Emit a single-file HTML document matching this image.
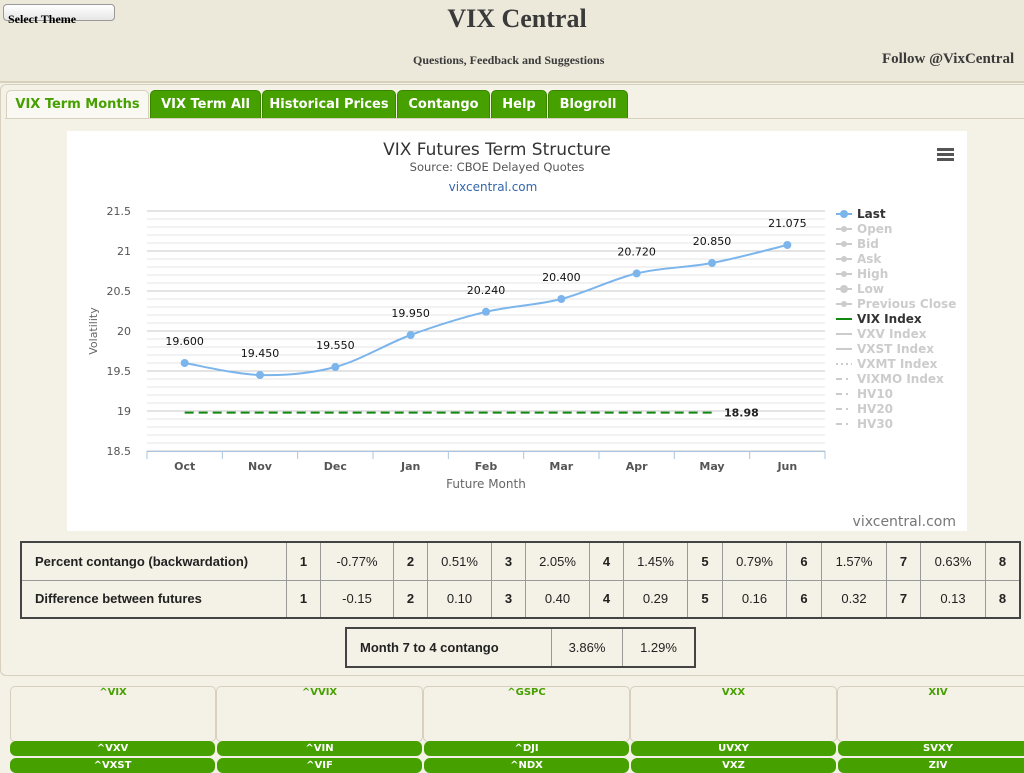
<!DOCTYPE html>
<html><head><meta charset="utf-8"><style>
body{margin:0;width:1024px;height:768px;overflow:hidden;background:#f4f1e6;font-family:"DejaVu Sans","Liberation Sans",sans-serif;position:relative}
.abs{position:absolute}
#hdr{left:0;top:0;width:1024px;height:81px;background:#ece8da;border-bottom:2px solid #d6d0bc}
.tab{position:absolute;top:90px;height:27px;background:#46a000;border:1px solid #3a8500;border-radius:5px 5px 0 0;color:#fff;font-weight:bold;font-size:13px;line-height:27px;text-align:center}
table{border-collapse:collapse;position:absolute;font-size:13px;color:#222;font-family:"Liberation Sans",sans-serif}
td{border:1px solid #999;padding:0;text-align:center}
.lbl{text-align:left;padding-left:13px;font-weight:bold}
.num{font-weight:bold}
.box{position:absolute;top:686px;height:54px;background:#f4f1e6;border:1px solid #d6d0bc;border-radius:5px;font-size:10px;color:#46a000;text-align:center;font-weight:bold}
.gbtn{position:absolute;height:15px;background:#46a000;border-radius:6px;color:#fff;font-size:10px;font-weight:bold;text-align:center;line-height:15px}
</style></head><body>
<div id="hdr" class="abs">
 <div class="abs" style="left:3px;top:4px;width:112px;height:17px;background:linear-gradient(#fff,#e6e6e6);border:1px solid #999;border-radius:4px;font:bold 12px 'Liberation Serif',serif;line-height:28px;padding-left:4px;box-sizing:border-box">Select Theme</div>
 <div class="abs" style="left:0;width:1034px;top:4px;text-align:center;font:bold 26px 'Liberation Serif',serif;color:#3a3a3a">VIX Central</div>
 <div class="abs" style="left:413px;top:53px;font:bold 12px 'Liberation Serif',serif;color:#3a3a3a">Questions, Feedback and Suggestions</div>
 <div class="abs" style="left:882px;top:51px;font:bold 15px 'Liberation Serif',serif;color:#3a3a3a;white-space:nowrap">Follow @VixCentral</div>
</div>
<div class="abs" style="left:0;top:84px;width:1030px;height:590px;border:1px solid #d6d0bc;border-radius:6px;background:#f4f1e6"></div>
<div class="tab" style="left:6px;width:141px;background:#f9f8f2;color:#46a000;border-color:#d6d0bc">VIX Term Months</div>
<div class="tab" style="left:150px;width:109px">VIX Term All</div>
<div class="tab" style="left:262px;width:132px">Historical Prices</div>
<div class="tab" style="left:397px;width:91px">Contango</div>
<div class="tab" style="left:491px;width:54px">Help</div>
<div class="tab" style="left:548px;width:78px">Blogroll</div>
<div class="abs" style="left:5px;top:118px;width:1019px;height:1px;background:#d6d0bc"></div>

<svg id="chart" class="abs" style="left:67px;top:131px" width="900" height="400"></svg>

<table style="left:20px;top:541px;border:2px solid #444">
<tr style="height:38px"><td class="lbl" style="width:251px">Percent contango (backwardation)</td><td class="num" style="width:33px">1</td><td style="width:72px">-0.77%</td><td class="num" style="width:33px">2</td><td style="width:63px">0.51%</td><td class="num" style="width:33px">3</td><td style="width:63px">2.05%</td><td class="num" style="width:33px">4</td><td style="width:63px">1.45%</td><td class="num" style="width:34px">5</td><td style="width:63px">0.79%</td><td class="num" style="width:34px">6</td><td style="width:64px">1.57%</td><td class="num" style="width:33px">7</td><td style="width:64px">0.63%</td><td class="num" style="width:33px">8</td></tr>
<tr style="height:38px"><td class="lbl">Difference between futures</td><td class="num">1</td><td>-0.15</td><td class="num">2</td><td>0.10</td><td class="num">3</td><td>0.40</td><td class="num">4</td><td>0.29</td><td class="num">5</td><td>0.16</td><td class="num">6</td><td>0.32</td><td class="num">7</td><td>0.13</td><td class="num">8</td></tr>
</table>
<table style="left:345px;top:627px;border:2px solid #444">
<tr style="height:39px"><td class="lbl" style="width:191px">Month 7 to 4 contango</td><td style="width:70px">3.86%</td><td style="width:71px">1.29%</td></tr>
</table>

<div class="box" style="left:10px;width:204px">^VIX</div>
<div class="box" style="left:216px;width:205px">^VVIX</div>
<div class="box" style="left:423px;width:205px">^GSPC</div>
<div class="box" style="left:630px;width:205px">VXX</div>
<div class="box" style="left:837px;width:200px">XIV</div>
<div class="gbtn" style="left:10px;top:741px;width:205px">^VXV</div>
<div class="gbtn" style="left:217px;top:741px;width:205px">^VIN</div>
<div class="gbtn" style="left:424px;top:741px;width:205px">^DJI</div>
<div class="gbtn" style="left:631px;top:741px;width:205px">UVXY</div>
<div class="gbtn" style="left:838px;top:741px;width:200px">SVXY</div>
<div class="gbtn" style="left:10px;top:758px;width:205px">^VXST</div>
<div class="gbtn" style="left:217px;top:758px;width:205px">^VIF</div>
<div class="gbtn" style="left:424px;top:758px;width:205px">^NDX</div>
<div class="gbtn" style="left:631px;top:758px;width:205px">VXZ</div>
<div class="gbtn" style="left:838px;top:758px;width:200px">ZIV</div>

<script>
const categories=["Oct","Nov","Dec","Jan","Feb","Mar","Apr","May","Jun"];
const lastValues=[19.6,19.45,19.55,19.95,20.24,20.4,20.72,20.85,21.075];
const lastLabels=["19.600","19.450","19.550","19.950","20.240","20.400","20.720","20.850","21.075"];
const vixIndex=18.98;
const vixLabel="18.98";
const yTicks=[18.5,19,19.5,20,20.5,21,21.5];
const yTickLabels=["18.5","19","19.5","20","20.5","21","21.5"];
const legendItems=["Last","Open","Bid","Ask","High","Low","Previous Close","VIX Index","VXV Index","VXST Index","VXMT Index","VIXMO Index","HV10","HV20","HV30"];

const NS="http://www.w3.org/2000/svg";
const svg=document.getElementById('chart');
const X0=80,X1=758,YT=80,YB=320,ymin=18.5,ymax=21.5;
const bw=(X1-X0)/categories.length;
const xs=i=>X0+bw*(i+0.5);
const ys=v=>YB-(v-ymin)/(ymax-ymin)*(YB-YT);
function mk(t,a,txt){const e=document.createElementNS(NS,t);for(const k in a)e.setAttribute(k,a[k]);if(txt!==undefined)e.textContent=txt;svg.appendChild(e);return e;}
let e;
e=mk('rect',{x:0,y:0,width:900,height:400,fill:'#fff'});


e=mk('text',{x:430,y:24,'text-anchor':'middle','font-size':17,fill:'#333'},'VIX Futures Term Structure');


e=mk('text',{x:430,y:40,'text-anchor':'middle','font-size':11.5,fill:'#555'},'Source: CBOE Delayed Quotes');


e=mk('text',{x:426,y:60,'text-anchor':'middle','font-size':12,fill:'#3366aa'},'vixcentral.com');


e=mk('text',{x:889,y:395,'text-anchor':'end','font-size':14,fill:'#777'},'vixcentral.com');


for(let i=0;i<3;i++){e=mk('rect',{x:870,y:17+i*5,width:17,height:3,fill:'#555'});}


for(let v=ymin;v<=ymax+1e-9;v+=0.1){
 const major=Math.abs(v*2-Math.round(v*2))<1e-6;
 e=mk('line',{x1:X0,x2:X1,y1:ys(v),y2:ys(v),stroke:major?'#c8c8c8':'#e4e4e4','stroke-width':1});
 
 
}
yTicks.forEach((v,i)=>{e=mk('text',{x:X0-16,y:ys(v)+4,'text-anchor':'end','font-size':11,fill:'#555'},yTickLabels[i]);
 
 });
e=mk('text',{x:30,y:200,'text-anchor':'middle','font-size':11,fill:'#666',transform:'rotate(-90 30 200)'},'Volatility');


e=mk('line',{x1:X0,x2:X1,y1:YB+0.5,y2:YB+0.5,stroke:'#aac4e0'});


for(let i=0;i<=categories.length;i++){e=mk('line',{x1:X0+bw*i,x2:X0+bw*i,y1:YB,y2:YB+8,stroke:'#aac4e0'});}
categories.forEach((c,i)=>{e=mk('text',{x:xs(i),y:YB+19,'text-anchor':'middle','font-size':11,'font-weight':'bold',fill:'#555'},c);
 
 });
e=mk('text',{x:(X0+X1)/2,y:YB+37,'text-anchor':'middle','font-size':12,fill:'#666'},'Future Month');


e=mk('line',{x1:xs(0),x2:xs(7),y1:ys(vixIndex),y2:ys(vixIndex),stroke:'#118811','stroke-width':2,'stroke-dasharray':'9,5'});


e=mk('text',{x:xs(7)+12,y:ys(vixIndex)+4,'font-size':11,'font-weight':'bold',fill:'#222'},vixLabel);


const pts=lastValues.map((v,i)=>[xs(i),ys(v)]);
let d='M'+pts[0][0]+','+pts[0][1];
for(let i=0;i<pts.length-1;i++){
 const p0=pts[Math.max(i-1,0)],p1=pts[i],p2=pts[i+1],p3=pts[Math.min(i+2,pts.length-1)];
 const c1=[p1[0]+(p2[0]-p0[0])/6,p1[1]+(p2[1]-p0[1])/6],c2=[p2[0]-(p3[0]-p1[0])/6,p2[1]-(p3[1]-p1[1])/6];
 d+=` C${c1[0]},${c1[1]} ${c2[0]},${c2[1]} ${p2[0]},${p2[1]}`;
}
e=mk('path',{d:d,fill:'none',stroke:'#7cb5ec','stroke-width':2});


pts.forEach((p,i)=>{
 e=mk('circle',{cx:p[0],cy:p[1],r:4,fill:'#7cb5ec'});
 
 
 e=mk('text',{x:p[0],y:p[1]-18,'text-anchor':'middle','font-size':11,fill:'#111'},lastLabels[i]);
 
 
});
legendItems.forEach((t,i)=>{
 const y=83+i*15, active=(i===0||i===7);
 const col=i===0?'#7cb5ec':(i===7?'#118811':'#ccc');
 const dash=i===10?'2,3':(i>=11?'6,4,2,4':'');
 e=mk('line',{x1:769,x2:785,y1:y,y2:y,stroke:col,'stroke-width':2,'stroke-dasharray':dash});
 if(i<7){e=mk('circle',{cx:777,cy:y,r:i===0||i===5?4:3,fill:col});}
 e=mk('text',{x:790,y:y+4,'font-size':12,'font-weight':'bold',fill:active?'#333':'#ccc'},t);
 
 
});
</script>
</body></html>
